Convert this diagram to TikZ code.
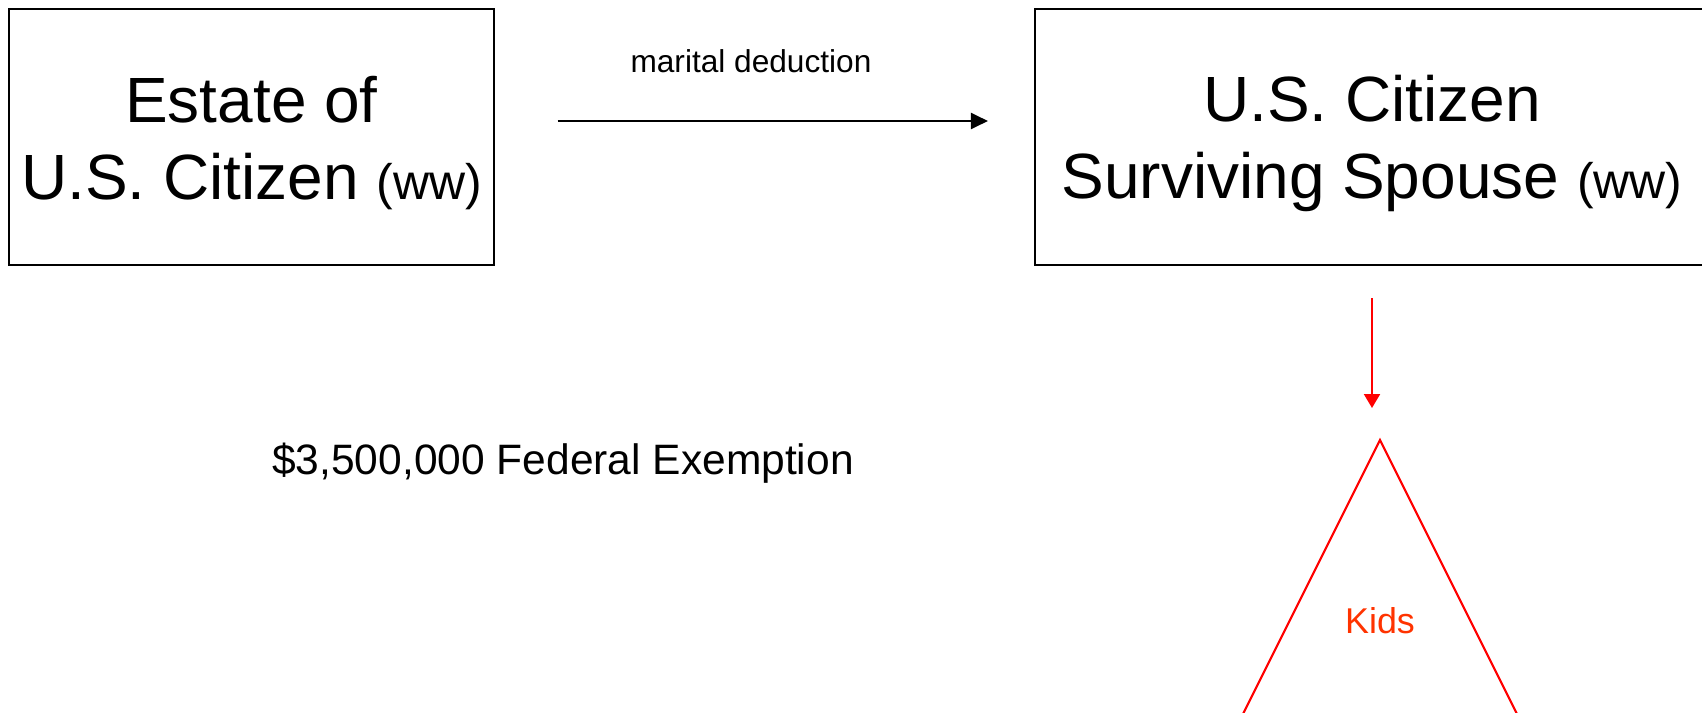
\documentclass[tikz,border=0pt]{standalone}
\usepackage{fontspec}
\setmainfont{Liberation Sans}
\usetikzlibrary{arrows.meta, positioning}
\definecolor{kidsRed}{RGB}{255,51,0}
\newcommand{\wwtag}{{\fontsize{14.2}{17}\selectfont (ww)}}
\newcommand{\topstrut}{\rule{0pt}{16.7pt}}

\begin{document}
\begin{tikzpicture}[
    party/.style={rectangle, draw, line width=0.6pt, minimum height=2.56cm, align=center, font=\fontsize{18.2}{21.9}\selectfont},
    note/.style={anchor=base, font=\fontsize{9}{11}\selectfont},
    arrow/.style={-{Triangle[length=1.7mm, width=1.6mm]}, line width=0.6pt},
    redarrow/.style={-{Triangle[length=1.4mm, width=1.6mm]}, line width=0.6pt, red}
]
\useasboundingbox (0,0) rectangle (17.02,7.12);

\node[party, minimum width=4.81cm] (estate) at (2.515,5.75) {\topstrut Estate of\\U.S. Citizen \wwtag};

\node[party, minimum width=6.74cm] (spouse) at (13.72,5.75) {\topstrut U.S. Citizen\\Surviving Spouse \wwtag};

\node[note] (marital) at (7.51,6.40) {marital deduction};

\node[note, font=\fontsize{12.1}{14.5}\selectfont] (exemption) at (5.63,2.38) {\$3,500,000 Federal Exemption};

\coordinate (apex) at (13.80,2.72);
\draw[red, line width=0.6pt] ([shift={(-1.86,-3.72)}]apex) -- (apex) -- ([shift={(1.86,-3.72)}]apex);
\node[note, text=kidsRed, font=\fontsize{10.2}{12}\selectfont] (kids) at (13.80,0.79) {Kids};

\draw[arrow] ([xshift=6.3mm, yshift=1.6mm]estate.east) -- ([xshift=-4.6mm, yshift=1.6mm]spouse.west);
\draw[redarrow, shorten <=3.2mm, shorten >=3.2mm] (spouse.south) -- (spouse.south |- apex);

\end{tikzpicture}
\end{document}
